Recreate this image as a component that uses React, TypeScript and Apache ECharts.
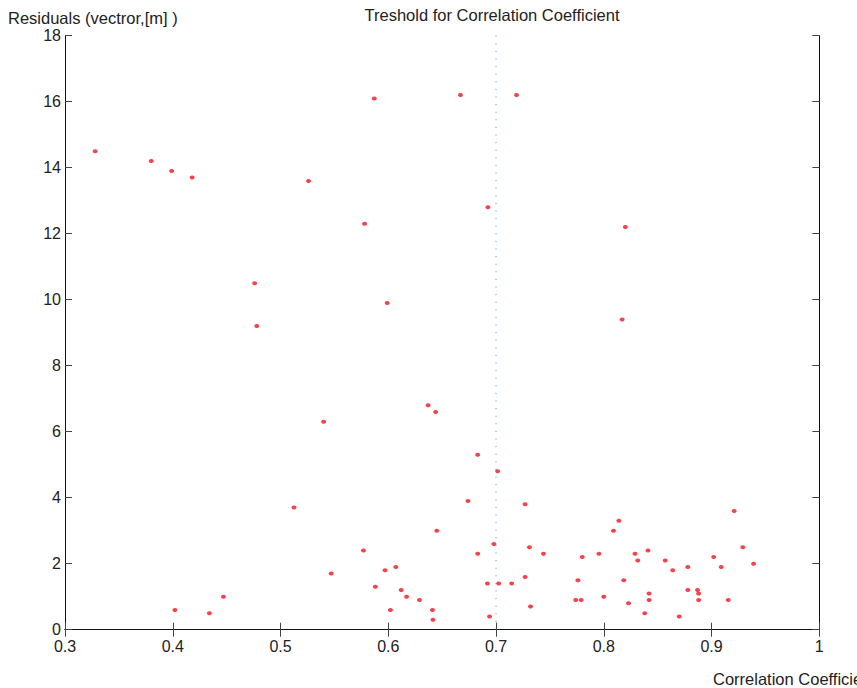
import React, { useEffect, useRef } from "react";
import * as echarts from "echarts";

const correlation = [
  0.328, 0.38, 0.399, 0.418, 0.526, 0.587, 0.667, 0.719, 0.578, 0.476,
  0.478, 0.599, 0.54, 0.637, 0.644, 0.6925, 0.82, 0.817, 0.402, 0.434,
  0.447, 0.5125, 0.547, 0.577, 0.588, 0.597, 0.607, 0.602, 0.612, 0.617,
  0.629, 0.641, 0.6415, 0.645, 0.683, 0.7015, 0.674, 0.727, 0.698, 0.683,
  0.731, 0.744, 0.692, 0.7025, 0.7145, 0.727, 0.732, 0.694, 0.774, 0.779,
  0.776, 0.78, 0.7955, 0.8, 0.809, 0.814, 0.8185, 0.823, 0.829, 0.8315,
  0.841, 0.838, 0.842, 0.842, 0.857, 0.864, 0.87, 0.878, 0.878, 0.887,
  0.888, 0.888, 0.902, 0.909, 0.9155, 0.921, 0.929, 0.939,
];

const residuals = [
  14.5, 14.2, 13.9, 13.7, 13.6, 16.1, 16.2, 16.2, 12.3, 10.5,
  9.2, 9.9, 6.3, 6.8, 6.6, 12.8, 12.2, 9.4, 0.6, 0.5,
  1.0, 3.7, 1.7, 2.4, 1.3, 1.8, 1.9, 0.6, 1.2, 1.0,
  0.9, 0.6, 0.3, 3.0, 5.3, 4.8, 3.9, 3.8, 2.6, 2.3,
  2.5, 2.3, 1.4, 1.4, 1.4, 1.6, 0.7, 0.4, 0.9, 0.9,
  1.5, 2.2, 2.3, 1.0, 3.0, 3.3, 1.5, 0.8, 2.3, 2.1,
  2.4, 0.5, 1.1, 0.9, 2.1, 1.8, 0.4, 1.9, 1.2, 1.2,
  1.1, 0.9, 2.2, 1.9, 0.9, 3.6, 2.5, 2.0,
];

const thresholdX = [0.7, 0.7];
const thresholdY = [18, 0];

const xRange = [0.3, 1.0];
const yRange = [0, 18];
const xStep = 0.1;
const yStep = 2;

const titleText = "Treshold for Correlation Coefficient";
const xName = "Correlation Coefficient";
const yName = "Residuals (vectror,[m] )";

const FONT = "Liberation Sans";
const FS = 16;

export default function App() {
  const ref = useRef<HTMLDivElement>(null);
  useEffect(() => {
    if (!ref.current) return;
    const chart = echarts.init(ref.current, undefined, { renderer: "svg" });
    const points = correlation.map((c, i) => [c, residuals[i]]);
    const line = thresholdX.map((x, i) => [x, thresholdY[i]]);
    const axisCommon = {
      type: "value" as const,
      splitLine: { show: false },
      axisLine: { show: true, lineStyle: { color: "#111", width: 1 } },
      axisTick: { show: true, inside: true, length: 7, lineStyle: { color: "#444", width: 1 } },
    };
    chart.setOption({
      animation: false,
      backgroundColor: "#ffffff",
      title: {
        text: titleText,
        left: 492,
        top: 6,
        textAlign: "center",
        padding: 0,
        textStyle: { fontFamily: FONT, fontSize: 16.5, fontWeight: "normal", color: "#222" },
      },
      grid: { left: 65, right: 37.7, top: 35.7, bottom: 58.3, containLabel: false },
      xAxis: [
        {
          ...axisCommon,
          position: "bottom",
          min: xRange[0],
          max: xRange[1],
          interval: xStep,
          axisLabel: {
            margin: 9,
            fontFamily: FONT,
            fontSize: FS,
            color: "#222",
            formatter: (v: number) => (Math.abs(v - 1) < 1e-9 ? "1" : v.toFixed(1)),
          },
        },
        {
          ...axisCommon,
          position: "top",
          min: xRange[0],
          max: xRange[1],
          interval: xStep,
          axisLabel: { show: false },
        },
      ],
      yAxis: [
        {
          ...axisCommon,
          position: "left",
          min: yRange[0],
          max: yRange[1],
          interval: yStep,
          axisLabel: { margin: 4, fontFamily: FONT, fontSize: FS, lineHeight: 14, color: "#222" },
        },
        {
          ...axisCommon,
          position: "right",
          min: yRange[0],
          max: yRange[1],
          interval: yStep,
          axisLabel: { show: false },
        },
      ],
      graphic: [
        {
          type: "text",
          x: 8,
          y: 17.5,
          style: {
            text: yName,
            fontFamily: FONT,
            fontSize: 16.5,
            lineHeight: 15,
            fill: "#222",
            textAlign: "left",
            textVerticalAlign: "middle",
          },
        },
        {
          type: "text",
          x: 713,
          y: 679,
          style: {
            text: xName,
            fontFamily: FONT,
            fontSize: 16.5,
            fill: "#222",
            textAlign: "left",
            textVerticalAlign: "middle",
          },
        },
      ],
      series: [
        {
          type: "line",
          data: line,
          symbol: "none",
          silent: true,
          lineStyle: { color: "#2a93dc", width: 1, type: [1, 6.6] },
          z: 1,
        },
        {
          type: "scatter",
          data: points,
          symbol: "circle",
          symbolSize: [5, 4],
          itemStyle: { color: "#f0141e" },
          z: 3,
        },
      ],
    });
    return () => chart.dispose();
  }, []);
  return (
    <div
      ref={ref}
      style={{ position: "absolute", left: 0, top: 0, width: 857, height: 688 }}
    />
  );
}
